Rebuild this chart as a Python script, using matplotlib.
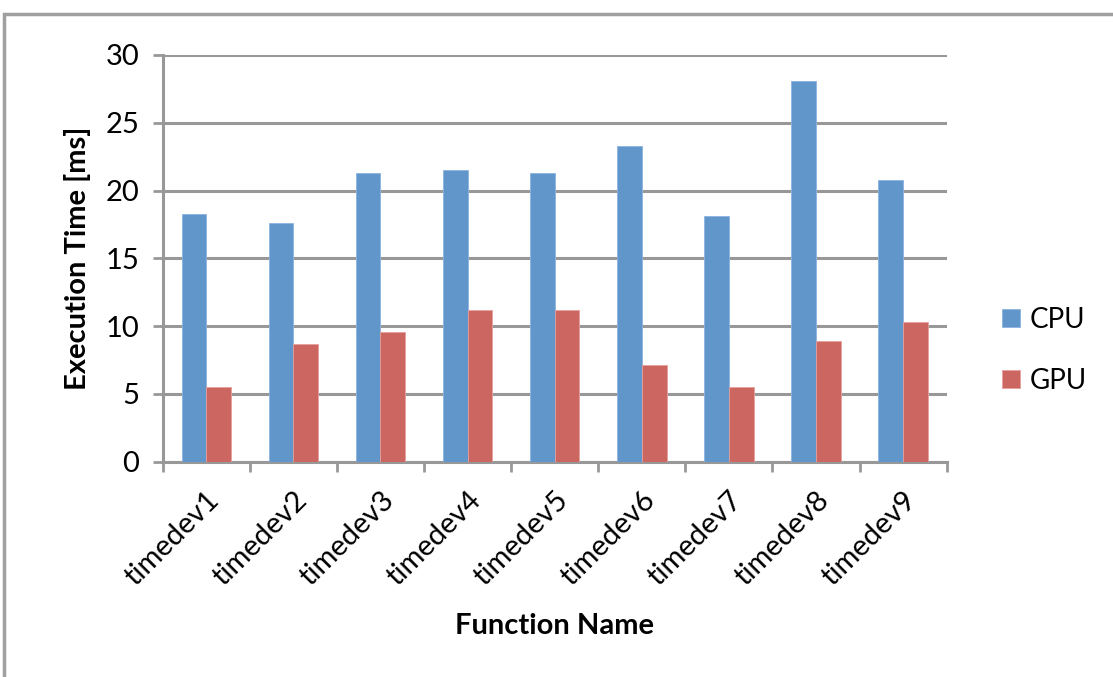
import matplotlib.pyplot as plt
import matplotlib.transforms as mtransforms
import numpy as np
from matplotlib.patches import Rectangle

plt.rcParams['font.family'] = ['Lato', 'DejaVu Sans']

# Execution times per function
functions = ['timedev1', 'timedev2', 'timedev3', 'timedev4', 'timedev5',
             'timedev6', 'timedev7', 'timedev8', 'timedev9']
cpu_ms = [18.3, 17.6, 21.3, 21.5, 21.3, 23.3, 18.1, 28.1, 20.8]
gpu_ms = [5.5, 8.7, 9.6, 11.2, 11.2, 7.1, 5.5, 8.9, 10.3]

cpu_color = '#6096C9'
gpu_color = '#CC6660'
grid_gray = '#989898'

fig = plt.figure(figsize=(11.13, 6.77), dpi=100)

# outer chart frame
fig.patches.append(Rectangle((4 / 1113, -0.1), 1.2, 1 - 14 / 677 + 0.1,
                             transform=fig.transFigure, fill=False,
                             edgecolor='#A0A0A0', linewidth=2.5, zorder=0))

ax = fig.add_axes([0.1462, 0.318, 0.7044, 0.6008])

x = np.arange(len(functions)) + 0.5
w = 0.284
ax.bar(x - w / 2, cpu_ms, w, color=cpu_color, edgecolor='#8DB3E2',
       linewidth=0.6, label='CPU', zorder=3)
ax.bar(x + w / 2, gpu_ms, w, color=gpu_color, edgecolor='#E6A09C',
       linewidth=0.6, label='GPU', zorder=3)

ax.set_xlim(0, len(functions))
ax.set_ylim(0, 30)
ax.set_yticks(range(0, 31, 5))
ax.yaxis.grid(True, color=grid_gray, linewidth=2.2, zorder=0)
ax.set_axisbelow(True)

ax.set_xticks(range(len(functions) + 1))
ax.set_xticklabels([])
ax.set_xticks(x, minor=True)
ax.set_xticklabels(functions, minor=True, rotation=45, ha='right',
                   rotation_mode='anchor', fontsize=21)
# nudge the slanted labels a little to the right
shift = mtransforms.ScaledTranslation(6 / 100, 0, fig.dpi_scale_trans)
for lbl in ax.get_xticklabels(minor=True):
    lbl.set_transform(lbl.get_transform() + shift)
ax.tick_params(axis='x', which='minor', length=0, pad=18)
ax.tick_params(axis='x', which='major', length=7, width=2, color=grid_gray,
               direction='out')
ax.tick_params(axis='y', length=7, width=2, color=grid_gray, labelsize=21,
               pad=10)

for side in ['top', 'right']:
    ax.spines[side].set_visible(False)
for side in ['left', 'bottom']:
    ax.spines[side].set_color(grid_gray)
    ax.spines[side].set_linewidth(2.2)

ax.set_ylabel('Execution Time [ms]', fontsize=21, fontweight='bold',
              labelpad=10)
ax.set_xlabel('Function Name', fontsize=21, fontweight='bold', labelpad=16)

ax.legend(loc='center left', bbox_to_anchor=(1.053, 0.274), frameon=False,
          fontsize=20, handlelength=0.65, handleheight=0.65,
          labelspacing=1.25, handletextpad=0.35, borderpad=0)

fig.savefig('out.png', dpi=100)
